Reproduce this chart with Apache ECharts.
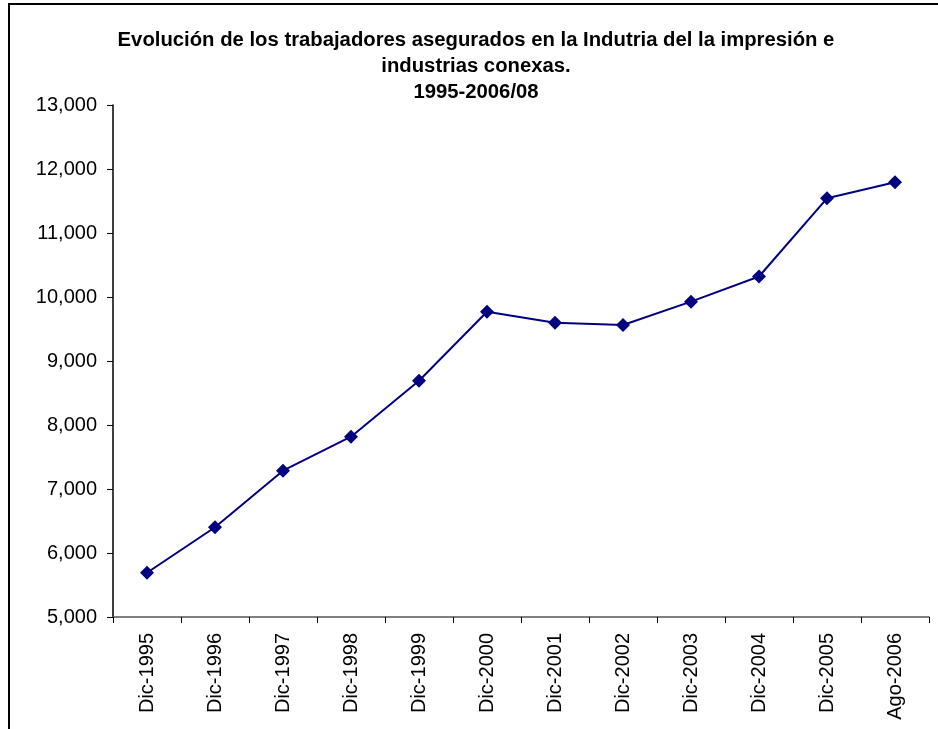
<!DOCTYPE html>
<html>
<head>
    <meta charset="utf-8">
    <script src="https://cdn.jsdelivr.net/npm/echarts@6/dist/echarts.min.js"></script>
    <style>
        html, body { margin: 0; padding: 0; background: #fff; overflow: hidden; }
        #wrap { position: relative; width: 938px; height: 729px; }
        #main { position: absolute; left: 0; top: 0; width: 938px; height: 729px; }
        #frame { position: absolute; left: 8px; top: 3px; width: 960px; height: 760px;
                 border-left: 2px solid #000; border-top: 2px solid #000; pointer-events: none; }
    </style>
</head>
<body>
<div id="wrap">
    <div id="main"></div>
    <div id="frame"></div>
</div>
<script type="text/javascript">
// categorias (eje X)
var periodos = ['Dic-1995', 'Dic-1996', 'Dic-1997', 'Dic-1998', 'Dic-1999', 'Dic-2000',
                'Dic-2001', 'Dic-2002', 'Dic-2003', 'Dic-2004', 'Dic-2005', 'Ago-2006'];
// trabajadores asegurados
var asegurados = [5692, 6402, 7286, 7817, 8692, 9770, 9598, 9562, 9927, 10320, 11542, 11792];

var chart = echarts.init(document.getElementById('main'));

var option = {
    backgroundColor: '#fff',
    animation: false,
    title: {
        text: 'Evolución de los trabajadores asegurados en la Indutria del la impresión e\nindustrias conexas.\n1995-2006/08',
        left: 471,
        textAlign: 'center',
        top: 22,
        textStyle: {
            fontFamily: 'Liberation Sans, Arial, sans-serif',
            fontSize: 20.3,
            fontWeight: 'bold',
            color: '#000',
            lineHeight: 26
        }
    },
    grid: {
        left: 113,
        right: 9,
        top: 105,
        bottom: 112
    },
    xAxis: {
        type: 'category',
        data: periodos,
        boundaryGap: true,
        axisLine: { lineStyle: { color: '#555', width: 1.5 } },
        axisTick: { show: true, length: 6, alignWithLabel: false, lineStyle: { color: '#000' } },
        axisLabel: {
            rotate: 90,
            margin: 16,
            interval: 0,
            color: '#000',
            fontSize: 20,
            fontFamily: 'Liberation Sans, Arial, sans-serif'
        },
        splitLine: { show: false }
    },
    yAxis: {
        type: 'value',
        min: 5000,
        max: 13000,
        interval: 1000,
        axisLine: { show: true, lineStyle: { color: '#000', width: 1.5 } },
        axisTick: { show: true, length: 6, lineStyle: { color: '#000' } },
        axisLabel: {
            margin: 16,
            color: '#000',
            fontSize: 20,
            fontFamily: 'Liberation Sans, Arial, sans-serif',
            formatter: function (v) {
                return v.toLocaleString('en-US');
            }
        },
        splitLine: { show: false }
    },
    series: [{
        type: 'line',
        data: asegurados,
        symbol: 'diamond',
        symbolSize: 14,
        itemStyle: { color: '#000080' },
        lineStyle: { color: '#000080', width: 2 }
    }]
};

chart.setOption(option);
</script>
</body>
</html>
